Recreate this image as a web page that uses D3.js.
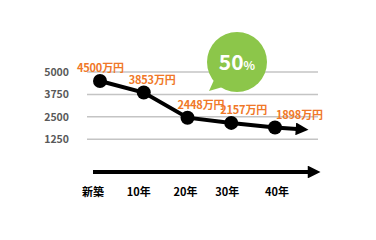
<!DOCTYPE html>
<html>
<head>
<meta charset="utf-8">
<script src="https://cdn.jsdelivr.net/npm/d3@7"></script>
<style>
  body { margin: 0; background: #fff; }
  text { font-family: "Noto Sans CJK JP", "Noto Sans", sans-serif; font-weight: bold; }
</style>
</head>
<body>
<div id="chart"></div>
<script>
// chart values
const categories = ["新築", "10年", "20年", "30年", "40年"];
const values = [4500, 3853, 2448, 2157, 1898];
const valueLabels = ["4500万円", "3853万円", "2448万円", "2157万円", "1898万円"];
const yTicks = [1250, 2500, 3750, 5000];
const bubbleText = "50";

const width = 376, height = 240;
const svg = d3.select("#chart").append("svg")
  .attr("width", width)
  .attr("height", height);

// scales
let x = d3.scalePoint().domain(categories).range([100, 275]);
let y = d3.scaleLinear().domain([0, 5000]).range([161.5, 72]);

// label nudges so they sit like the original (start-anchored, relative to the point)
let labelDx = [-23, -15, -10, -11, 1];
let catDx = [-7, -5, -2, -4, 2];

// gridlines
svg.append("g").selectAll("line")
  .data(yTicks)
  .enter().append("line")
  .attr("x1", 87).attr("x2", 318)
  .attr("y1", d => y(d)).attr("y2", d => y(d))
  .attr("stroke", "#c4c4c4")
  .attr("stroke-width", 1.5);

// y tick labels
svg.append("g").selectAll("text")
  .data(yTicks)
  .enter().append("text")
  .attr("x", 69)
  .attr("y", d => y(d) + 4)
  .attr("text-anchor", "end")
  .attr("font-size", 10.5)
  .attr("fill", "#595959")
  .text(d => d);

// speech bubble
let bubble = svg.append("g");
bubble.append("path")
  .attr("d", "M214,80 L209,91 L226,86 Z")
  .attr("fill", "#8cc64a");
bubble.append("circle")
  .attr("cx", 237).attr("cy", 62).attr("r", 30)
  .attr("fill", "#8cc64a");
let bt = bubble.append("text")
  .attr("x", 237).attr("y", 70)
  .attr("text-anchor", "middle")
  .attr("fill", "#fff");
bt.append("tspan").attr("font-size", 21).text(bubbleText);
bt.append("tspan").attr("font-size", 12).text("%");

// arrow markers
let defs = svg.append("defs");
defs.append("marker")
  .attr("id", "head")
  .attr("viewBox", "0 0 10 10")
  .attr("refX", 1).attr("refY", 5)
  .attr("markerWidth", 3.6).attr("markerHeight", 3.2)
  .attr("markerUnits", "strokeWidth")
  .attr("orient", "auto")
  .append("path").attr("d", "M0,0 L10,5 L0,10 Z").attr("fill", "#000");

// data line with trailing arrow
let pts = categories.map((c, i) => [x(c), y(values[i])]);
let last = pts[pts.length - 1];
let linePts = pts.concat([[last[0] + 22, last[1] + 1.5]]);
svg.append("path")
  .attr("d", d3.line()(linePts))
  .attr("fill", "none")
  .attr("stroke", "#000")
  .attr("stroke-width", 4)
  .attr("marker-end", "url(#head)");

svg.append("g").selectAll("circle")
  .data(pts)
  .enter().append("circle")
  .attr("cx", d => d[0]).attr("cy", d => d[1])
  .attr("r", 7)
  .attr("fill", "#000");

// value labels
svg.append("g").selectAll("text")
  .data(valueLabels)
  .enter().append("text")
  .attr("x", (d, i) => x(categories[i]) + labelDx[i])
  .attr("y", (d, i) => y(values[i]) - 9)
  .attr("font-size", 11)
  .attr("letter-spacing", -0.2)
  .attr("fill", "#f07828")
  .text(d => d);

// bottom time axis arrow
svg.append("line")
  .attr("x1", 93).attr("x2", 309)
  .attr("y1", 172).attr("y2", 172)
  .attr("stroke", "#000")
  .attr("stroke-width", 4)
  .attr("marker-end", "url(#head)");

// x labels
svg.append("g").selectAll("text")
  .data(categories)
  .enter().append("text")
  .attr("x", (d, i) => x(d) + catDx[i])
  .attr("y", 196)
  .attr("text-anchor", "middle")
  .attr("font-size", 11)
  .attr("fill", "#000")
  .text(d => d);
</script>
</body>
</html>
